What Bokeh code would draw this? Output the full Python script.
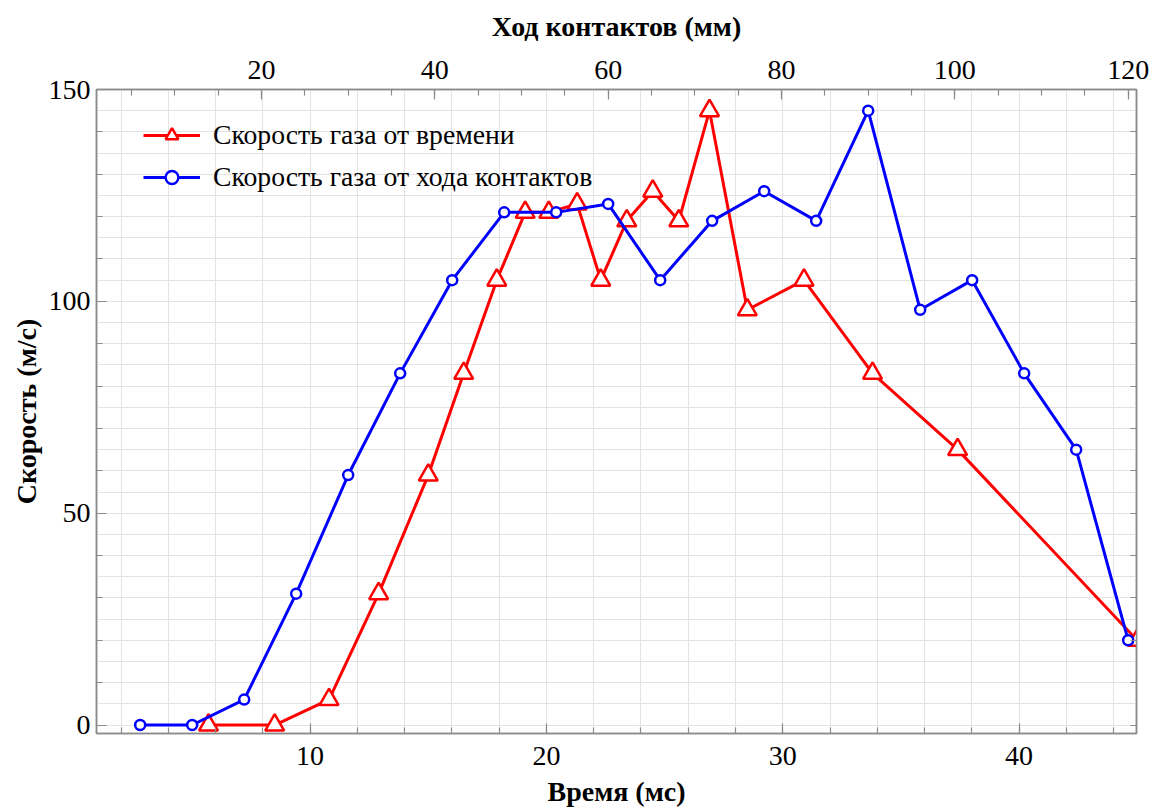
from bokeh.plotting import figure
from bokeh.models import Range1d, LinearAxis, FixedTicker, Legend, LegendItem
from bokeh.embed import file_html
from bokeh.resources import INLINE

# Data
speed = [0, 0, 6, 31, 59, 83, 105, 121, 121, 123, 105, 119, 126, 119, 145, 98, 105, 83, 65, 20]
time_ms = [5.7, 8.5, 10.8, 12.9, 15.0, 16.5, 17.9, 19.1, 20.1, 21.3, 22.3, 23.4, 24.5, 25.6, 26.9, 28.5, 30.9, 33.8, 37.4, 45.0]
travel_mm = [6, 12, 18, 24, 30, 36, 42, 48, 54, 60, 66, 72, 78, 84, 90, 96, 102, 108, 114, 120]

x_ticks = [10, 20, 30, 40]
x_minor = list(range(2, 46, 2))
y_ticks = [0, 50, 100, 150]
y_minor = list(range(0, 151, 10))
y_grid = list(range(0, 151, 5))
top_ticks = [20, 40, 60, 80, 100, 120]
top_minor = list(range(5, 121, 5))

label_red = "Скорость газа от времени"
label_blue = "Скорость газа от хода контактов"

FONT = "Liberation Serif"
GREY = "#8a8a8a"

p = figure(frame_width=1040, frame_height=644,
           min_border_left=96, min_border_right=13, min_border_top=89, min_border_bottom=79,
           x_range=Range1d(0.96, 44.97), y_range=Range1d(-2, 150),
           output_backend="svg", toolbar_location=None,
           background_fill_color="white", border_fill_color="white")
p.extra_x_ranges = {"mm": Range1d(0.96, 120.96)}

p.outline_line_color = GREY
p.outline_line_width = 1.5

# grids
p.xgrid.ticker = FixedTicker(ticks=x_minor)
p.ygrid.ticker = FixedTicker(ticks=y_grid)
p.xgrid.grid_line_color = "#e3e3e3"
p.ygrid.grid_line_color = "#e3e3e3"
p.xgrid.grid_line_width = 1
p.ygrid.grid_line_width = 1

def style_axis(ax, show_labels=True):
    ax.axis_line_color = GREY
    ax.axis_line_width = 1.5
    ax.major_tick_line_color = GREY
    ax.minor_tick_line_color = GREY
    ax.major_tick_line_width = 1.2
    ax.minor_tick_line_width = 1.2
    ax.major_tick_in = 10
    ax.major_tick_out = 0
    ax.minor_tick_in = 6
    ax.minor_tick_out = 0
    ax.major_label_text_font = FONT
    ax.major_label_text_font_size = "28px"
    ax.major_label_text_color = "black"
    ax.axis_label_text_font = FONT
    ax.axis_label_text_font_size = "28px"
    ax.axis_label_text_font_style = "bold"
    ax.axis_label_text_color = "black"
    if not show_labels:
        ax.major_label_text_font_size = "0px"
        ax.major_label_text_alpha = 0

# bottom axis
xa = p.xaxis[0]
xa.ticker = FixedTicker(ticks=x_ticks, minor_ticks=x_minor)
xa.axis_label = "Время (мс)"
style_axis(xa)
xa.major_label_standoff = 13
xa.axis_label_standoff = 8

# left axis
ya = p.yaxis[0]
ya.ticker = FixedTicker(ticks=y_ticks, minor_ticks=y_minor)
ya.axis_label = "Скорость (м/с)"
style_axis(ya)
ya.major_label_standoff = 6
ya.axis_label_standoff = 4

# top axis
top = LinearAxis(x_range_name="mm", axis_label="Ход контактов (мм)",
                 ticker=FixedTicker(ticks=top_ticks, minor_ticks=top_minor))
style_axis(top)
top.major_label_standoff = 11
top.axis_label_standoff = 16
p.add_layout(top, "above")

# right axis (ticks only)
right = LinearAxis(ticker=FixedTicker(ticks=y_minor, minor_ticks=[]), axis_label=None)
style_axis(right, show_labels=False)
right.major_tick_in = 6
right.major_label_standoff = 0
p.add_layout(right, "right")

# series
r_line = p.line(time_ms, speed, line_color="#ff0000", line_width=3)
r_mark = p.scatter(time_ms, speed, marker="triangle", size=19, line_color="#ff0000",
                   line_width=2.5, fill_color="white")
b_line = p.line(travel_mm, speed, line_color="#0000ff", line_width=3, x_range_name="mm")
b_mark = p.scatter(travel_mm, speed, marker="circle", size=10, line_color="#0000ff",
                   line_width=2.5, fill_color="white", x_range_name="mm")

legend = Legend(items=[LegendItem(label=label_red, renderers=[r_line, r_mark]),
                       LegendItem(label=label_blue, renderers=[b_line, b_mark])],
                location=(37, 530))
legend.background_fill_alpha = 0
legend.border_line_alpha = 0
legend.padding = 10
legend.margin = 0
legend.glyph_width = 57
legend.glyph_height = 32
legend.label_height = 32
legend.spacing = 10
legend.label_standoff = 13
legend.label_text_font = FONT
legend.label_text_font_size = "27.7px"
legend.label_text_color = "black"
p.add_layout(legend, "center")

open("out.html", "w").write(file_html(p, INLINE))
